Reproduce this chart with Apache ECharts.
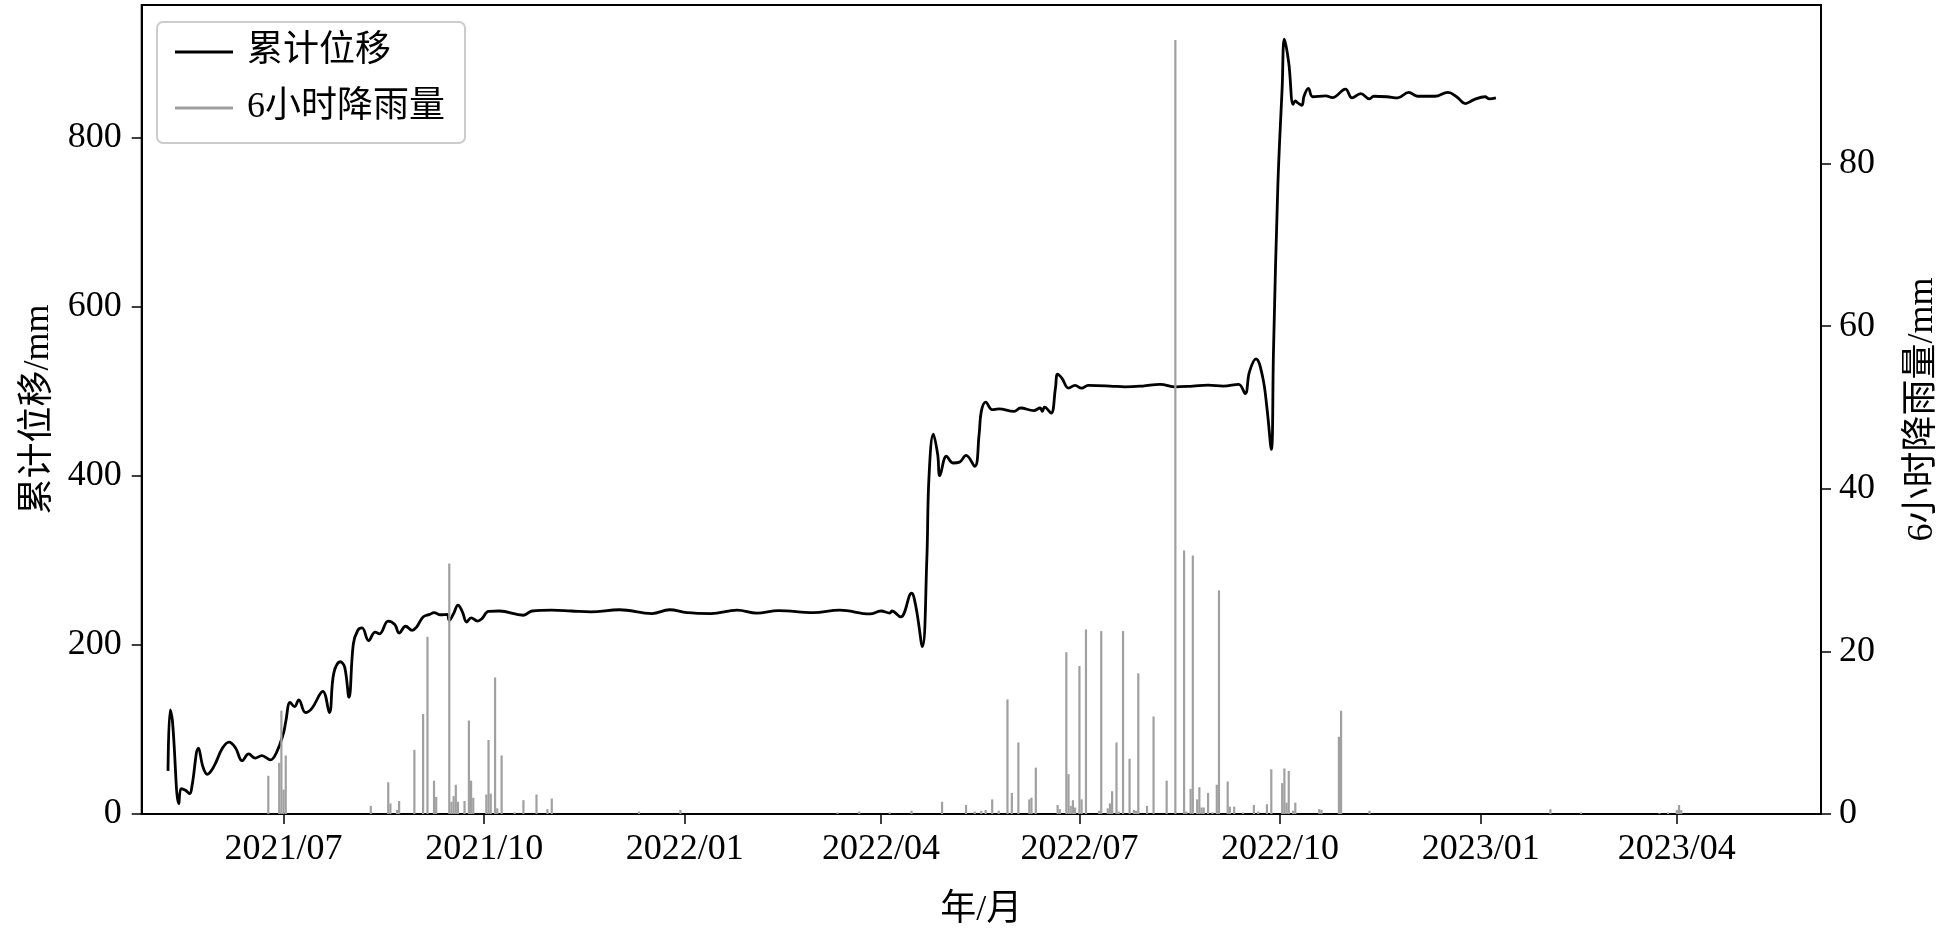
<!DOCTYPE html>
<html><head><meta charset="utf-8">
<script src="https://cdn.jsdelivr.net/npm/echarts@6/dist/echarts.min.js"></script>
<style>html,body{margin:0;padding:0;background:#fff}#c{width:1949px;height:934px}</style>
</head><body><div id="c"></div>
<script>
const dispDates = ['2021-05-09','2021-05-10','2021-05-11','2021-05-14','2021-05-15','2021-05-17','2021-05-19','2021-05-20','2021-05-23','2021-05-25','2021-05-27','2021-05-30','2021-06-03','2021-06-06','2021-06-09','2021-06-12','2021-06-15','2021-06-18','2021-06-21','2021-06-25','2021-06-28','2021-07-01','2021-07-02','2021-07-04','2021-07-06','2021-07-08','2021-07-11','2021-07-14','2021-07-19','2021-07-22','2021-07-24','2021-07-27','2021-07-29','2021-07-31','2021-08-02','2021-08-04','2021-08-06','2021-08-09','2021-08-12','2021-08-14','2021-08-18','2021-08-21','2021-08-23','2021-08-26','2021-08-29','2021-08-31','2021-09-03','2021-09-06','2021-09-08','2021-09-11','2021-09-14','2021-09-15','2021-09-17','2021-09-19','2021-09-21','2021-09-23','2021-09-25','2021-09-28','2021-09-30','2021-10-03','2021-10-08','2021-10-19','2021-10-23','2021-11-01','2021-11-10','2021-11-19','2021-12-02','2021-12-17','2021-12-25','2022-01-02','2022-01-13','2022-01-25','2022-02-03','2022-02-13','2022-03-01','2022-03-13','2022-03-27','2022-04-01','2022-04-05','2022-04-06','2022-04-10','2022-04-15','2022-04-17','2022-04-20','2022-04-22','2022-04-23','2022-04-25','2022-04-27','2022-04-28','2022-05-01','2022-05-04','2022-05-07','2022-05-10','2022-05-14','2022-05-16','2022-05-17','2022-05-19','2022-05-22','2022-05-25','2022-06-01','2022-06-04','2022-06-10','2022-06-13','2022-06-14','2022-06-15','2022-06-18','2022-06-20','2022-06-21','2022-06-23','2022-06-26','2022-06-29','2022-07-02','2022-07-05','2022-07-15','2022-07-22','2022-07-30','2022-08-07','2022-08-14','2022-08-22','2022-08-29','2022-09-05','2022-09-12','2022-09-15','2022-09-17','2022-09-20','2022-09-23','2022-09-25','2022-09-27','2022-09-28','2022-09-30','2022-10-02','2022-10-03','2022-10-05','2022-10-07','2022-10-08','2022-10-09','2022-10-11','2022-10-12','2022-10-14','2022-10-16','2022-10-22','2022-10-25','2022-10-31','2022-11-03','2022-11-07','2022-11-11','2022-11-13','2022-11-19','2022-11-24','2022-11-29','2022-12-03','2022-12-11','2022-12-17','2022-12-21','2022-12-25','2022-12-29','2023-01-03','2023-01-05','2023-01-08'];
const dispValues = [51,123,111,12,30,28,24,33,78,56,47,56,78,85,78,63,71,66,69,64,74,96,109,132,127,135,120,125,145,120,166,180,174,138,201,217,220,205,215,213,228,224,214,222,217,221,233,236,238,235.6,236,229,237,247,239,227,232,228,231,239.6,240,235,240,241,240,239,241.5,237,241.5,238,237,241,237.5,240.5,238,241,236.5,240,237.6,240,233,261,245,198,300,398,449,425,400,423,415,416,424,411,449,476,487,478,479,476,480,477,480,476,481,474,503.5,520,515,503.5,506.7,503.5,506.7,506,505,506,508,505,506,507,506,508,497,523,538,517,480,431,547,743,860,916,888,839,843,841,838,848.6,858,848,849,847,857,846.7,851.7,845.5,848.6,848,846.7,853.3,848.6,848.6,853.3,848,840,844.7,848,845.5,846.7];
const rainDates = ['2021-06-24','2021-06-29','2021-06-30','2021-07-01','2021-07-02','2021-08-10','2021-08-18','2021-08-19','2021-08-22','2021-08-23','2021-08-30','2021-09-03','2021-09-05','2021-09-08','2021-09-09','2021-09-15','2021-09-16','2021-09-17','2021-09-18','2021-09-19','2021-09-22','2021-09-24','2021-09-25','2021-09-26','2021-10-02','2021-10-03','2021-10-04','2021-10-06','2021-10-07','2021-10-09','2021-10-15','2021-10-19','2021-10-25','2021-10-30','2021-11-01','2021-12-11','2021-12-30','2022-03-12','2022-03-22','2022-04-05','2022-04-15','2022-04-29','2022-05-10','2022-05-14','2022-05-17','2022-05-19','2022-05-22','2022-05-25','2022-05-29','2022-05-31','2022-06-03','2022-06-08','2022-06-09','2022-06-11','2022-06-21','2022-06-22','2022-06-25','2022-06-26','2022-06-27','2022-06-28','2022-06-29','2022-07-01','2022-07-02','2022-07-04','2022-07-10','2022-07-11','2022-07-14','2022-07-15','2022-07-16','2022-07-18','2022-07-19','2022-07-21','2022-07-24','2022-07-26','2022-07-27','2022-07-28','2022-08-01','2022-08-04','2022-08-10','2022-08-14','2022-08-18','2022-08-19','2022-08-21','2022-08-22','2022-08-24','2022-08-25','2022-08-26','2022-08-27','2022-08-29','2022-08-31','2022-09-02','2022-09-03','2022-09-07','2022-09-08','2022-09-10','2022-09-14','2022-09-19','2022-09-21','2022-09-25','2022-09-27','2022-10-02','2022-10-03','2022-10-04','2022-10-05','2022-10-07','2022-10-08','2022-10-19','2022-10-20','2022-10-28','2022-10-29','2022-11-11','2023-02-02','2023-02-16','2023-03-24','2023-03-28','2023-04-01','2023-04-02','2023-04-03'];
const rainValues = [4.7,6.3,12.7,3.0,7.2,1.0,3.9,1.3,0.5,1.6,7.9,12.3,21.8,4.1,2.1,30.8,1.5,2.2,3.6,1.5,1.6,11.5,4.1,2.0,2.4,9.1,2.5,16.8,0.7,7.2,0.2,1.7,2.4,0.6,1.9,0.3,0.5,0.2,0.3,0.2,0.4,1.5,1.1,0.3,0.4,0.5,1.8,0.4,14.1,2.6,8.8,1.8,2.0,5.7,1.1,0.6,19.9,4.9,1.0,1.7,0.8,18.2,1.8,22.7,0.4,22.5,0.7,1.3,2.8,8.8,0.3,22.5,6.8,0.5,0.4,17.3,1.0,12.0,4.1,95.2,32.4,0.3,3.1,31.8,1.8,3.3,0.8,0.8,2.6,0.2,3.6,27.5,4.0,0.9,0.9,0.2,1.1,0.3,1.2,5.5,3.8,5.6,1.4,5.3,0.4,1.4,0.6,0.5,9.5,12.7,0.4,0.6,0.2,0.1,0.2,0.5,1.1,0.5];
const xTickLabels = ['2021/07','2021/10','2022/01','2022/04','2022/07','2022/10','2023/01','2023/04'];
const leftTicks = [0,200,400,600,800];
const rightTicks = [0,20,40,60,80];

function ts(s){ const p=s.split(/[-\/]/).map(Number); return Date.UTC(p[0],p[1]-1,p[2]||1); }
const DAY = 86400000;
const xTicks = xTickLabels.map(ts);
const xMin = ts('2021-07-01') - 65.06*DAY;
const xMax = ts('2021-07-01') + 705.1*DAY;
const FF = "'Liberation Serif','Noto Sans CJK SC',serif";
function fmt(v){ const d=new Date(v); return d.getUTCFullYear()+'/'+String(d.getUTCMonth()+1).padStart(2,'0'); }

const chart = echarts.init(document.getElementById('c'));
const txt = {fontFamily:FF,fontSize:36,color:'#000'};
chart.setOption({
  animation:false,
  backgroundColor:'#fff',
  grid:{left:141.7,right:120.4,top:5,bottom:116,show:true,borderColor:'#000',borderWidth:2,backgroundColor:'transparent'},
  legend:{orient:'vertical',left:157,top:22,padding:[12,20,17,18],itemWidth:58,itemHeight:3,itemGap:20,icon:'rect',
    borderColor:'#cccccc',borderWidth:2,borderRadius:6,backgroundColor:'rgba(255,255,255,0.8)',
    textStyle:Object.assign({lineHeight:36,padding:[0,0,0,9]},txt),
    data:[{name:'累计位移'},{name:'6小时降雨量'}]},
  xAxis:{type:'value',min:xMin,max:xMax,
    axisLine:{show:true,onZero:false,lineStyle:{color:'#000',width:2}},
    axisTick:{show:true,length:10,lineStyle:{color:'#000',width:1.5},customValues:xTicks},
    axisLabel:Object.assign({customValues:xTicks,formatter:fmt,margin:18},txt),
    splitLine:{show:false},
    name:'年/月',nameLocation:'middle',nameGap:79,nameTextStyle:Object.assign({lineHeight:36},txt)},
  yAxis:[
    {type:'value',min:0,max:956.5,position:'left',
     axisLine:{show:true,lineStyle:{color:'#000',width:2}},
     axisTick:{show:true,length:10,lineStyle:{color:'#000',width:1.5},customValues:leftTicks},
     axisLabel:Object.assign({customValues:leftTicks,margin:20},txt),
     splitLine:{show:false},
     name:'累计位移/mm',nameLocation:'middle',nameGap:83,nameRotate:90,nameTextStyle:Object.assign({lineHeight:36},txt)},
    {type:'value',min:0,max:99.5,position:'right',
     axisLine:{show:true,lineStyle:{color:'#000',width:2}},
     axisTick:{show:true,length:10,lineStyle:{color:'#000',width:1.5},customValues:rightTicks},
     axisLabel:Object.assign({customValues:rightTicks,margin:18},txt),
     splitLine:{show:false},
     name:'6小时降雨量/mm',nameLocation:'middle',nameGap:84,nameRotate:90,nameTextStyle:Object.assign({lineHeight:36},txt)}
  ],
  series:[
    {type:'line',name:'累计位移',yAxisIndex:0,showSymbol:false,smooth:0.4,z:2,
     lineStyle:{color:'#000',width:2.8},itemStyle:{color:'#000'},
     data:dispDates.map((d,i)=>[ts(d),dispValues[i]])},
    {type:'bar',name:'6小时降雨量',yAxisIndex:1,barWidth:2.2,z:3,
     itemStyle:{color:'#a0a0a0'},
     data:rainDates.map((d,i)=>[ts(d),rainValues[i]])}
  ]
});
</script></body></html>
